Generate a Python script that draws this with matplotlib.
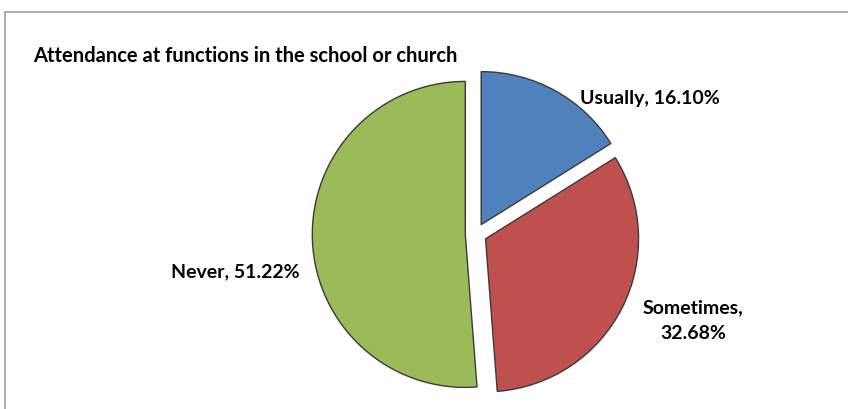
import matplotlib
matplotlib.use("Agg")
import matplotlib.pyplot as plt
from matplotlib.patches import Rectangle

categories = ["Usually", "Sometimes", "Never"]
shares = [16.10, 32.68, 51.22]
colors = ["#4F81BD", "#C0504D", "#9BBB59"]
title = "Attendance at functions in the school or church"

plt.rcParams['font.family'] = ['Lato', 'DejaVu Sans']

W, H = 848, 410
R = 153.0            # pie radius in px
cx, cy = 476, 235    # pie centre in px (from top-left)

fig = plt.figure(figsize=(W / 100, H / 100), dpi=100)
ax = fig.add_axes([0, 0, 1, 1])

ax.pie(shares, colors=colors, startangle=90, counterclock=False,
       explode=[0.07] * len(shares), radius=1,
       wedgeprops=dict(edgecolor="#3a3a3a", linewidth=1.0))
ax.set_xlim(-cx / R, (W - cx) / R)
ax.set_ylim(-(H - cy) / R, cy / R)
ax.set_aspect("auto")
ax.axis("off")

# label layout (in pie-radius units)
label_pos = [(0.68, 0.895, "left"), (1.42, -0.56, "center"), (-1.15, -0.243, "right")]
for cat, val, (lx, ly, ha) in zip(categories, shares, label_pos):
    if cat == "Sometimes":
        txt = f"{cat},\n{val:.2f}%"
    else:
        txt = f"{cat}, {val:.2f}%"
    ax.text(lx, ly, txt, ha=ha, va="center", fontsize=14, fontweight="bold",
            linespacing=1.6, color="black")

fig.text(33 / W, 1 - 56 / H, title, ha="left", va="center",
         fontsize=14.5, fontweight="bold")

# outer chart frame (cropped on right and bottom)
fig.add_artist(Rectangle((5 / W, -0.1), 2, 1.1 - 13 / H, transform=fig.transFigure,
                         fill=False, edgecolor="#a6a6a6", linewidth=1.3))

fig.savefig("out.png", dpi=100)
